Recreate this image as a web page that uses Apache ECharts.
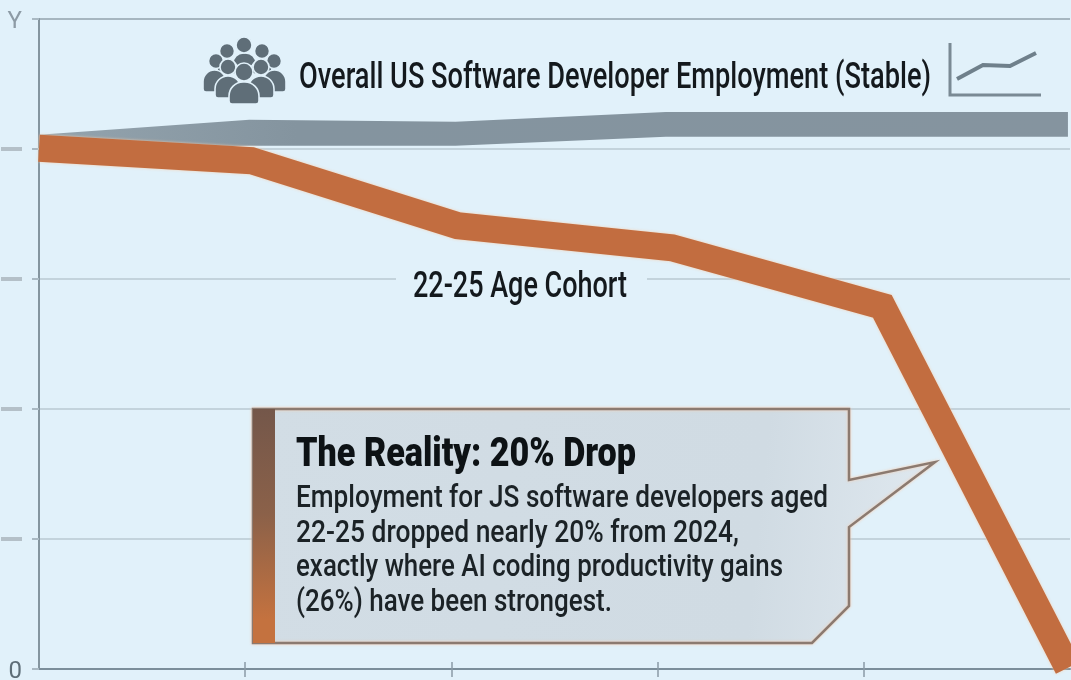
<!DOCTYPE html>
<html>
<head>
<meta charset="utf-8">
<title>Developer employment by cohort</title>
<script src="https://cdn.jsdelivr.net/npm/echarts@6/dist/echarts.min.js"></script>
<style>
  html, body { margin: 0; padding: 0; background: #e1f1fa; }
  #chart { width: 1071px; height: 680px; }
</style>
</head>
<body>
<div id="chart"></div>
<script>
// Younger cohort index, x in axis steps
const cohortX = [0, 1.03, 2.03, 3.07, 4.09, 4.99];
const cohortY = [80.1, 78.2, 68.2, 64.8, 55.8, 0.2];

// Overall employment ribbon: lower and upper edge
const overallX = [0, 1.02, 2.02, 3.04, 4.99];
const overallLow = [80.0, 80.5, 80.5, 81.9, 81.9];
const overallHigh = [82.2, 84.5, 84.2, 85.7, 85.7];

const yTicks = { 0: '{zero|0}', 100: '{top|Y}' };
const xTickSteps = [1, 2, 3, 4];

const overallTitle = 'Overall US Software Developer Employment (Stable)';
const cohortTitle = '22-25 Age Cohort';
const calloutTitle = 'The Reality: 20% Drop';
const calloutLines = [
  'Employment for JS software developers aged',
  '22-25 dropped nearly 20% from 2024,',
  'exactly where AI coding productivity gains',
  '(26%) have been strongest.'
];

const FONT = 'Roboto, "Noto Sans", sans-serif';
const BG = '#e1f1fa';
const ICON = '#5f6e78';

// The lettering is condensed, so each run is squeezed to its own width
const measure = document.createElement('canvas').getContext('2d');
function textRun(text, x, baseline, size, width, weight, fill) {
  measure.font = `${weight} ${size}px Roboto`;
  return {
    type: 'text', x, y: baseline + size * 0.234,
    scaleX: width / measure.measureText(text).width,
    z: 20,
    style: { text, fontFamily: FONT, fontSize: size, fontWeight: weight, fill,
             textAlign: 'left', textVerticalAlign: 'bottom' }
  };
}

// One figure of the crowd icon: head and shoulders, outlined in the page colour
function person(cx, headY, r, left, right, top, bottom) {
  const outline = { fill: ICON, stroke: BG, lineWidth: 1.6 };
  return [
    { type: 'rect', z: 10, shape: { x: left, y: top, width: right - left, height: bottom - top, r: [14, 14, 3, 3] }, style: outline },
    { type: 'circle', z: 10, shape: { cx, cy: headY, r }, style: outline }
  ];
}

const crowd = [
  ...person(244, 45, 8, 233, 256, 53, 66),
  ...person(227, 51, 7.5, 217, 238, 60, 74),
  ...person(262, 51, 7.5, 251, 272, 60, 74),
  ...person(216, 61, 7.5, 203, 226, 70, 92),
  ...person(274, 61, 7.5, 263, 286, 70, 92),
  ...person(228, 67, 8, 215, 241, 76, 98),
  ...person(261, 67, 8, 248, 274, 76, 98),
  ...person(244, 72, 9, 229, 259, 82, 104)
];

const miniChart = [
  { type: 'polyline', z: 10, shape: { points: [[950, 43], [950, 95], [1041, 95]] },
    style: { fill: 'none', stroke: '#7a8a94', lineWidth: 3 } },
  { type: 'polyline', z: 10, shape: { points: [[957, 79], [983, 65], [1010, 66], [1036, 53]] },
    style: { fill: 'none', stroke: '#6f808b', lineWidth: 4 } }
];

const callout = [
  { type: 'polygon', z: 12,
    shape: { points: [[253, 409], [849, 409], [849, 480], [935, 462], [849, 527], [849, 606], [812, 643], [253, 643]] },
    style: {
      fill: { type: 'linear', x: 0, y: 0, x2: 1, y2: 0.3, colorStops: [
        { offset: 0, color: '#d2dde5' }, { offset: 0.75, color: '#d0dbe3' }, { offset: 1, color: '#dfe8ef' }] },
      stroke: '#8b7a70', lineWidth: 2.5, shadowBlur: 3, shadowColor: 'rgba(246,205,175,0.9)'
    } },
  { type: 'rect', z: 13, shape: { x: 253, y: 409, width: 22, height: 234 },
    style: {
      fill: { type: 'linear', x: 0, y: 0, x2: 0.25, y2: 1, colorStops: [
        { offset: 0, color: '#74574a' }, { offset: 0.45, color: '#8b6149' }, { offset: 0.9, color: '#c4723f' }, { offset: 1, color: '#c4723f' }] }
    } }
];

// The ribbon is one polygon: along the upper edge, back along the lower edge
function renderRibbon(params, api) {
  if (params.dataIndex !== 0) return null;
  const upper = overallX.map((x, i) => api.coord([x, overallHigh[i]]));
  const lower = overallX.map((x, i) => api.coord([x, overallLow[i]])).reverse();
  return {
    type: 'polygon',
    shape: { points: upper.concat(lower) },
    style: {
      fill: { type: 'linear', x: 0, y: 0, x2: 1, y2: 0, colorStops: [
        { offset: 0, color: '#94a4ae' }, { offset: 0.25, color: '#84949f' }, { offset: 1, color: '#85949f' }] }
    }
  };
}

const option = {
  animation: false,
  backgroundColor: BG,
  grid: { left: 39, top: 19, width: 1031, height: 650, outerBoundsMode: 'none' },
  xAxis: [
    {
      type: 'value', min: 0, max: 5, interval: 1,
      axisLine: { show: true, lineStyle: { color: '#7b8e9a', width: 2 } },
      axisTick: { show: true, length: 8, customValues: xTickSteps, lineStyle: { color: '#8a9ba6', width: 1.5 } },
      axisLabel: { show: false },
      splitLine: { show: false }
    },
    {
      type: 'value', min: 0, max: 5, interval: 1, position: 'bottom',
      axisLine: { show: false },
      axisTick: { show: true, inside: true, length: 7, customValues: xTickSteps, lineStyle: { color: '#8a9ba6', width: 1.5 } },
      axisLabel: { show: false },
      splitLine: { show: false }
    }
  ],
  yAxis: {
    type: 'value', min: 0, max: 100, interval: 20,
    axisLine: { show: true, lineStyle: { color: '#84959f', width: 2 } },
    axisTick: { show: true, length: 7, lineStyle: { color: '#a9b9c3', width: 2 } },
    axisLabel: {
      show: true, margin: 17, align: 'right',
      formatter: v => yTicks[v] || '{dash| }',
      rich: {
        zero: { fontFamily: FONT, fontSize: 24, color: '#5e6e78', padding: [5, 0, 0, 0] },
        top: { fontFamily: FONT, fontSize: 24, color: '#8d9ba5', padding: [5, 0, 0, 0] },
        dash: { width: 21, height: 4, backgroundColor: '#b4c0c8' }
      }
    },
    splitLine: { show: true, lineStyle: { color: ['#c3d3dc', '#c3d3dc', '#c3d3dc', '#c3d3dc', '#c3d3dc', '#a6b6c0'], width: 2 } }
  },
  series: [
    {
      name: 'Overall', type: 'custom', renderItem: renderRibbon, clip: false,
      data: overallX.map((x, i) => [x, overallLow[i], overallHigh[i]]),
      encode: { x: 0, y: [1, 2] },
      z: 3
    },
    {
      name: 'Age 22-25', type: 'line', symbol: 'none', clip: false,
      data: cohortX.map((x, i) => [x, cohortY[i]]),
      lineStyle: { color: '#c26d40', width: 27, cap: 'butt', join: 'miter',
                   shadowBlur: 3, shadowColor: 'rgba(248,205,170,0.9)' },
      z: 5
    }
  ],
  graphic: { elements: [
    { type: 'rect', z: 9, shape: { x: 396, y: 271, width: 251, height: 16 }, style: { fill: BG } },
    ...crowd,
    ...miniChart,
    ...callout,
    textRun(overallTitle, 299, 89, 36, 632, 500, '#14191d'),
    textRun(cohortTitle, 413, 298, 36, 214, 500, '#14191d'),
    textRun(calloutTitle, 296, 467, 40, 340, 900, '#0d1215'),
    textRun(calloutLines[0], 296, 508, 32, 532, 500, '#1b2226'),
    textRun(calloutLines[1], 296, 543, 32, 443, 500, '#1b2226'),
    textRun(calloutLines[2], 296, 577, 32, 487, 500, '#1b2226'),
    textRun(calloutLines[3], 296, 612, 32, 316, 500, '#1b2226')
  ] }
};

echarts.init(document.getElementById('chart'), null, { renderer: 'canvas' }).setOption(option);
</script>
</body>
</html>
